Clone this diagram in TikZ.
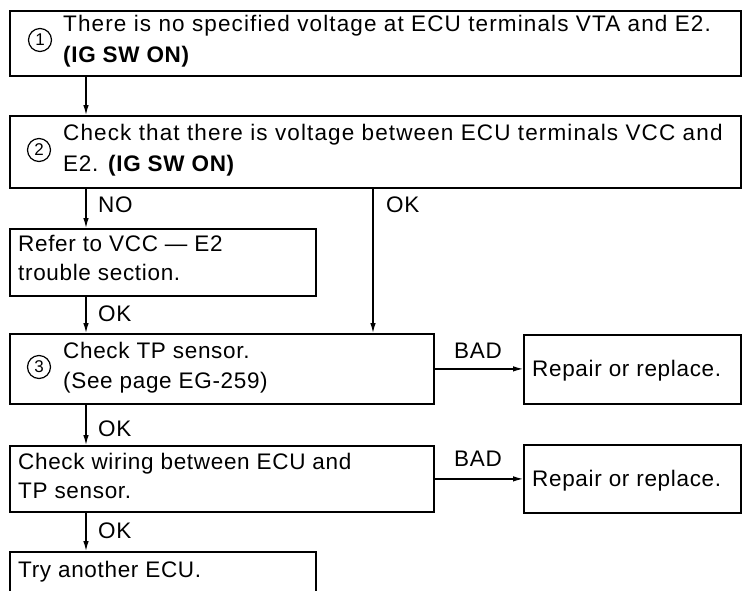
\documentclass[tikz,border=0pt]{standalone}
\usepackage{fontspec}
\setmainfont{Liberation Sans}[LetterSpace=3]
\usetikzlibrary{arrows.meta}
\begin{document}
\begin{tikzpicture}[x=1pt,y=-1pt,
  box/.style={draw,line width=1.8pt,anchor=north west,inner sep=0pt},
  txt/.style={anchor=base west,inner sep=0pt,font=\fontsize{22.5}{29}\selectfont},
  wide/.style={font=\fontsize{22.5}{29}\selectfont\addfontfeatures{LetterSpace=5}},
  lbl/.style={anchor=base west,inner sep=0pt,font=\fontsize{22.5}{29}\selectfont},
  num/.style={circle,draw,line width=1.2pt,inner sep=0pt,minimum size=23pt,font=\fontsize{17}{17}\selectfont},
  arr/.style={line width=1.2pt,-{Latex[length=10pt,width=5.5pt]}}
]
\path[use as bounding box,clip] (0,0) rectangle (742,590);
% boxes
\node[box,minimum width=731pt,minimum height=65pt] (b1) at (9,10) {};
\node[box,minimum width=731pt,minimum height=72pt] (b2) at (9,115) {};
\node[box,minimum width=306pt,minimum height=67pt] (b3) at (9,228) {};
\node[box,minimum width=424pt,minimum height=70pt] (b4) at (9,333) {};
\node[box,minimum width=217pt,minimum height=69pt] (r1) at (523,334) {};
\node[box,minimum width=424pt,minimum height=66pt] (b5) at (9,445) {};
\node[box,minimum width=217pt,minimum height=68pt] (r2) at (523,444) {};
\node[box,minimum width=306pt,minimum height=60pt] (b6) at (9,551) {};
% numbers
\node[num] (n1) at (40,40) {1};
\node[num] (n2) at (39,150) {2};
\node[num] (n3) at (39,367) {3};
% texts
\node[txt,wide] (t1a) at (63,31) {There is no specified voltage at ECU terminals VTA and E2.};
\node[txt] (t1b) at (63,62) {\textbf{(IG SW ON)}};
\node[txt,wide] (t2a) at (63,140) {Check that there is voltage between ECU terminals VCC and};
\node[txt] (t2b) at (63,171) {E2. \textbf{(IG SW ON)}};
\node[txt] (t3a) at (18,251) {Refer to VCC — E2};
\node[txt] (t3b) at (18,280) {trouble section.};
\node[txt] (t4a) at (63,358) {Check TP sensor.};
\node[txt] (t4b) at (63,388) {(See page EG-259)};
\node[txt] (t5) at (532,376) {Repair or replace.};
\node[txt] (t6a) at (18,469) {Check wiring between ECU and};
\node[txt] (t6b) at (18,498) {TP sensor.};
\node[txt] (t7) at (532,486) {Repair or replace.};
\node[txt] (t8) at (18,577) {Try another ECU.};
% connectors
\draw[arr] ([xshift=77pt]b1.south west) -- ([xshift=77pt]b2.north west);
\draw[arr] ([xshift=77pt]b2.south west) -- ([xshift=77pt]b3.north west);
\draw[arr] ([xshift=364pt]b2.south west) -- ([xshift=364pt]b4.north west);
\draw[arr] ([xshift=77pt]b3.south west) -- ([xshift=77pt]b4.north west);
\draw[arr] (b4.east) -- (b4.east -| r1.west);
\draw[arr] ([xshift=77pt]b4.south west) -- ([xshift=77pt]b5.north west);
\draw[arr] (b5.east) -- (b5.east -| r2.west);
\draw[arr] ([xshift=77pt]b5.south west) -- ([xshift=77pt]b6.north west);
% labels
\node[lbl] (l1) at (98,212) {NO};
\node[lbl] (l2) at (386,212) {OK};
\node[lbl] (l3) at (98,321) {OK};
\node[lbl] (l4) at (98,436) {OK};
\node[lbl] (l5) at (98,538) {OK};
\node[lbl] (l6) at (454,358) {BAD};
\node[lbl] (l7) at (454,466) {BAD};
\end{tikzpicture}
\end{document}
